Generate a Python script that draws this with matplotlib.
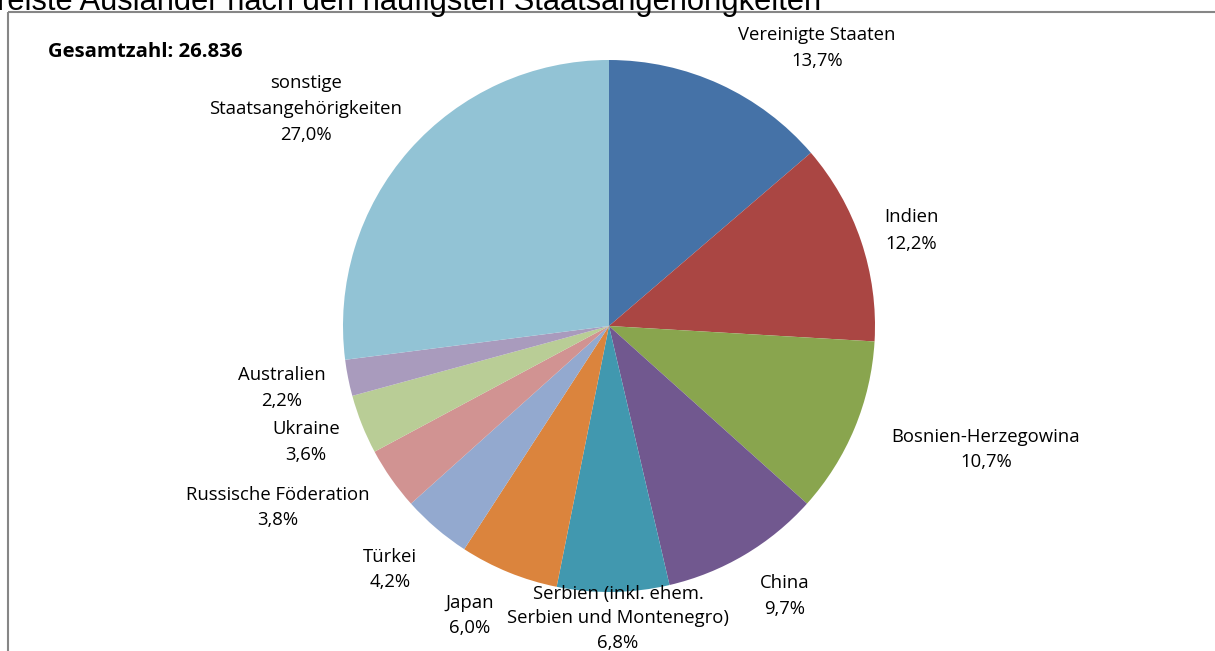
import matplotlib
matplotlib.use("Agg")
import matplotlib.pyplot as plt

# Staatsangehörigkeiten und Anteile (%)
countries = [
    "Vereinigte Staaten", "Indien", "Bosnien-Herzegowina", "China",
    "Serbien (inkl. ehem.\nSerbien und Montenegro)", "Japan", "Türkei",
    "Russische Föderation", "Ukraine", "Australien",
    "sonstige\nStaatsangehörigkeiten",
]
shares = [13.7, 12.2, 10.7, 9.7, 6.8, 6.0, 4.2, 3.8, 3.6, 2.2, 27.0]
colors = ["#4572A7", "#AA4643", "#89A54E", "#71588F", "#4198AF", "#DB843D",
          "#93A9CF", "#D19392", "#B9CD96", "#A99BBD", "#92C3D5"]
total_label = "Gesamtzahl: 26.836"
title = "reiste Ausländer nach den häufigsten Staatsangehörigkeiten"

W, H = 1215, 651
fig = plt.figure(figsize=(W / 100, H / 100), dpi=100)
ax = fig.add_axes([0, 0, 1, 1])


def Y(y):
    return H - y


# Kreisdiagramm
cx, cy, r = 609, 326, 266
ax.pie(shares, colors=colors, startangle=90, counterclock=False,
       center=(cx, Y(cy)), radius=r, frame=True,
       wedgeprops=dict(linewidth=0))
ax.set_xlim(0, W)
ax.set_ylim(0, H)
ax.axis("off")

# Rahmen des Diagrammbereichs
ax.plot([8, 8], [Y(12), Y(H + 5)], color="#868686", lw=1.5, solid_capstyle="butt")
ax.plot([8, W + 5], [Y(12), Y(12)], color="#868686", lw=1.5, solid_capstyle="butt")

# Titel
ax.text(-3, Y(10), title, fontsize=22.2, family="Liberation Sans",
        ha="left", va="baseline", color="black")

# Beschriftungen: Mittelpunkt x und y der ersten Zeile, Zeilenabstand
label_pos = [
    (817, 33, 26.5), (911, 216, 26.5), (986, 435, 25.5), (785, 582, 25.5),
    (618, 592, 24.5), (470, 601, 25.5), (390, 555, 25.5), (278, 493, 25.5),
    (306, 428, 25.5), (282, 374, 25.5), (306, 82, 25.5),
]
for name, val, (lx, ly, step) in zip(countries, shares, label_pos):
    lines = name.split("\n") + [f"{val:.1f}".replace(".", ",") + "%"]
    for i, line in enumerate(lines):
        ax.text(lx, Y(ly + i * step + 6.5), line, fontsize=13.3,
                family="Open Sans", ha="center", va="baseline", color="black")

ax.text(48, Y(57), total_label, fontsize=14.7, family="Open Sans",
        fontweight="bold", ha="left", va="baseline", color="black")

fig.savefig("out.png", dpi=100)
